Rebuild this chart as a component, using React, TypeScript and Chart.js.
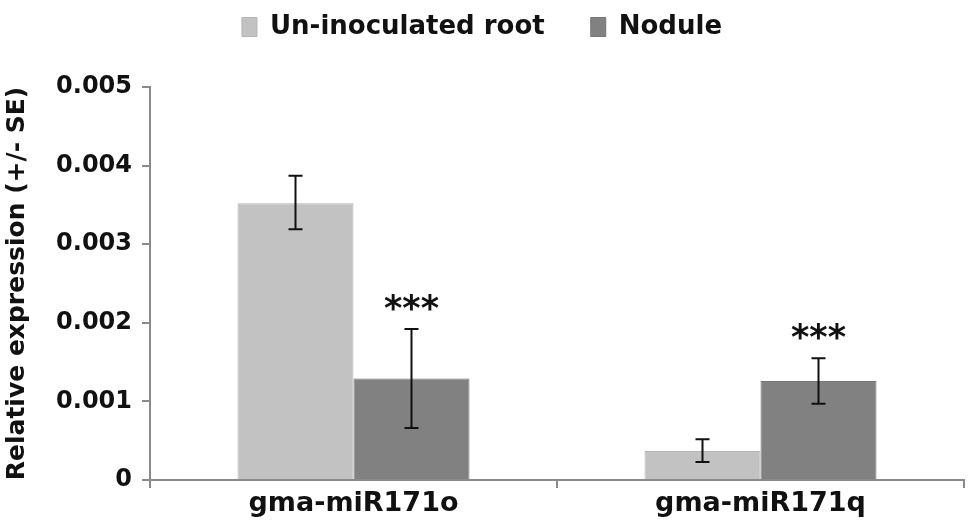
import React, { useEffect, useRef } from 'react';
import { Chart, registerables } from 'chart.js';

Chart.register(...registerables);

const categories = ['gma-miR171o', 'gma-miR171q'];
const seriesNames = ['Un-inoculated root', 'Nodule'];
const uninoculated = [0.00352, 0.00037];
const nodule = [0.00129, 0.00126];
const uninoculatedErrLow = [0.00319, 0.00023];
const uninoculatedErrHigh = [0.00387, 0.00052];
const noduleErrLow = [0.00066, 0.00097];
const noduleErrHigh = [0.00192, 0.00155];
const uninoculatedSig = ['', ''];
const noduleSig = ['***', '***'];
const yTickLabels = ['0', '0.001', '0.002', '0.003', '0.004', '0.005'];
const yTitle = 'Relative expression (+/- SE)';

const FONT = "'DejaVu Sans', 'Liberation Sans', Arial, sans-serif";
const TEXT = '#111111';
const AXIS = '#8a8a8a';

const errorBarPlugin = {
  id: 'errorBars',
  afterDatasetsDraw(chart: any) {
    const ctx = chart.ctx;
    const yScale = chart.scales.y;
    chart.data.datasets.forEach((ds: any, di: number) => {
      const meta = chart.getDatasetMeta(di);
      meta.data.forEach((bar: any, i: number) => {
        const x = bar.x;
        const yl = yScale.getPixelForValue(ds.errLow[i]);
        const yh = yScale.getPixelForValue(ds.errHigh[i]);
        ctx.save();
        ctx.strokeStyle = '#111';
        ctx.lineWidth = 2;
        ctx.beginPath();
        ctx.moveTo(x, yl);
        ctx.lineTo(x, yh);
        ctx.moveTo(x - 7, yl);
        ctx.lineTo(x + 7, yl);
        ctx.moveTo(x - 7, yh);
        ctx.lineTo(x + 7, yh);
        ctx.stroke();
        const sig = ds.sig[i];
        if (sig) {
          ctx.fillStyle = TEXT;
          ctx.font = `bold 35px ${FONT}`;
          ctx.textAlign = 'center';
          ctx.textBaseline = 'alphabetic';
          ctx.fillText(sig, x, yh - 9);
        }
        ctx.restore();
      });
    });
  },
};

const legendSpacePlugin = {
  id: 'legendSpace',
  afterInit(chart: any) {
    const legend = chart.legend;
    if (!legend) return;
    const orig = legend.fit;
    legend.fit = function () {
      orig.call(this);
      this.height = 119;
    };
  },
};

export default function App() {
  const canvasRef = useRef<HTMLCanvasElement | null>(null);

  useEffect(() => {
    const canvas = canvasRef.current;
    if (!canvas) return;
    const chart = new Chart(canvas, {
      type: 'bar',
      data: {
        labels: categories,
        datasets: [
          {
            label: seriesNames[0],
            data: uninoculated,
            backgroundColor: '#c2c2c2',
            borderColor: '#b5b5b5',
            borderWidth: 1,
            errLow: uninoculatedErrLow,
            errHigh: uninoculatedErrHigh,
            sig: uninoculatedSig,
          } as any,
          {
            label: seriesNames[1],
            data: nodule,
            backgroundColor: '#818181',
            borderColor: '#767676',
            borderWidth: 1,
            errLow: noduleErrLow,
            errHigh: noduleErrHigh,
            sig: noduleSig,
          } as any,
        ],
      },
      options: {
        responsive: false,
        animation: false,
        layout: { padding: { top: -32, right: 13, left: 0, bottom: 0 } },
        datasets: {
          bar: { categoryPercentage: 0.57, barPercentage: 1 },
        },
        plugins: {
          legend: {
            display: true,
            position: 'top',
            labels: {
              font: { family: FONT, size: 26, weight: 'bold' },
              color: TEXT,
              boxWidth: 15,
              boxHeight: 19,
              padding: 46,
            },
          },
          tooltip: { enabled: false },
        },
        scales: {
          x: {
            grid: {
              display: true,
              drawOnChartArea: false,
              drawTicks: true,
              tickLength: 8,
              color: AXIS,
              lineWidth: 2,
            },
            border: { display: true, color: AXIS, width: 2 },
            ticks: {
              font: { family: FONT, size: 27, weight: 'bold' },
              color: TEXT,
              padding: 0,
            },
            afterFit(scale: any) {
              scale.height = 52;
            },
          },
          y: {
            min: 0,
            max: 0.005,
            grid: {
              display: true,
              drawOnChartArea: false,
              drawTicks: true,
              tickLength: 8,
              color: AXIS,
              lineWidth: 2,
            },
            border: { display: true, color: AXIS, width: 2 },
            ticks: {
              stepSize: 0.001,
              font: { family: FONT, size: 24, weight: 'bold' },
              color: TEXT,
              padding: 10,
              callback: (_v: any, i: number) => yTickLabels[i],
            },
            title: {
              display: true,
              text: yTitle,
              font: { family: FONT, size: 25, weight: 'bold' },
              color: TEXT,
              padding: { top: 2, bottom: 4 },
            },
            afterFit(scale: any) {
              scale.width = 150;
            },
          },
        },
      },
      plugins: [errorBarPlugin, legendSpacePlugin],
    } as any);
    return () => chart.destroy();
  }, []);

  return (
    <div style={{ position: 'absolute', left: 0, top: 0, width: 977, height: 532, background: '#fff' }}>
      <canvas ref={canvasRef} width={977} height={532} style={{ display: 'block' }} />
    </div>
  );
}
